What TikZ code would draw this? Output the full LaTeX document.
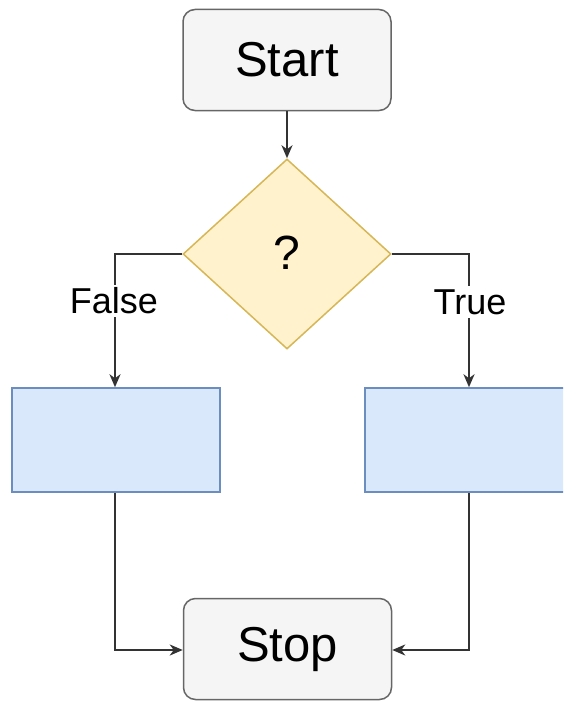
\documentclass[tikz,border=0pt]{standalone}
\usepackage{fontspec}
\setmainfont{Liberation Sans}
\usetikzlibrary{arrows.meta,shapes.geometric}
\definecolor{termfill}{HTML}{F5F5F5}
\definecolor{termline}{HTML}{666666}
\definecolor{decfill}{HTML}{FFF2CC}
\definecolor{decline}{HTML}{D6B656}
\definecolor{procfill}{HTML}{DAE8FC}
\definecolor{procline}{HTML}{6C8EBF}
\definecolor{wire}{HTML}{333333}
\tikzset{
  terminal/.style={draw=termline, fill=termfill, line width=1.5pt, rounded corners=12pt,
    minimum width=208pt, minimum height=101pt, inner sep=0pt, font=\fontsize{49}{54}\selectfont},
  decision/.style={draw=decline, fill=decfill, line width=1.5pt, diamond, aspect=1.095,
    minimum width=208pt, minimum height=190pt, inner sep=0pt, font=\fontsize{48}{54}\selectfont},
  process/.style={draw=procline, fill=procfill, line width=1.5pt,
    minimum width=208pt, minimum height=104pt, inner sep=0pt},
  link/.style={draw=wire, line width=2.2pt, -{Stealth[length=13pt,width=11pt,inset=4pt]}},
  branch/.style={fill=white, inner sep=3pt, font=\fontsize{36}{42}\selectfont}
}
\begin{document}
\begin{tikzpicture}[x=1pt,y=-1pt]
  \useasboundingbox (0,0) rectangle (563,701);
  \begin{scope}
    \clip (0,0) rectangle (563,701);
    % terminals
    \node[terminal] (start) at (287,60) {Start};
    \node[terminal] (stop) at (287.5,649) {Stop};
    % decision
    \node[decision] (dec) at (287,254) {\raisebox{3pt}{?}};
    % two processing blocks
    \node[process] (left) at (116,440) {};
    \node[process] (right) at (469,440) {};
    % bends of the branch connectors
    \coordinate (lbend) at (dec.west -| 115,0);
    \coordinate (rbend) at (dec.east -| 469,0);
    \coordinate (lfoot) at (115,650);
    \coordinate (rfoot) at (469,650);
    % connectors
    \draw[link] (start.south) -- (dec.north);
    \draw[link] (dec.west) -- (lbend) -- (left.north -| lbend);
    \draw[link] (dec.east) -- (rbend) -- (right.north -| rbend);
    \draw[link] (left.south -| lfoot) -- (lfoot) -- (stop.west |- lfoot);
    \draw[link] (right.south -| rfoot) -- (rfoot) -- (stop.east |- rfoot);
    % branch labels
    \node[branch] (lfalse) at (114,301) {False};
    \node[branch] (ltrue) at (470,302) {True};
  \end{scope}
\end{tikzpicture}
\end{document}
